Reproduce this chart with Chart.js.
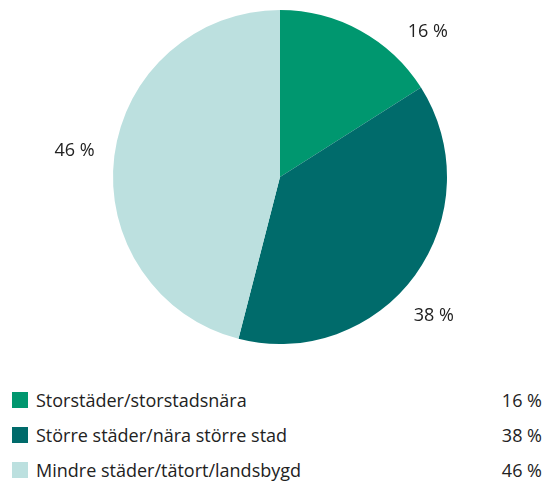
<!DOCTYPE html>
<html>
<head>
<meta charset="utf-8">
<script src="https://cdn.jsdelivr.net/npm/chart.js@4/dist/chart.umd.min.js"></script>
<style>
  body { margin: 0; background: #fff; font-family: "Open Sans", sans-serif; color: #222; }
  #wrap { position: relative; width: 558px; height: 360px; }
  #legend { position: absolute; left: 0; top: 383px; width: 558px; }
  .row { position: relative; height: 35px; font-size: 18px; line-height: 35px; }
  .box { position: absolute; left: 12px; top: 9px; width: 16px; height: 16px; }
  .lab { position: absolute; left: 36px; }
  .val { position: absolute; right: 16px; }
</style>
</head>
<body>
<div id="wrap"><canvas id="myChart" width="558" height="360"></canvas></div>
<div id="legend"></div>
<script>
var categories = ['Storstäder/storstadsnära', 'Större städer/nära större stad', 'Mindre städer/tätort/landsbygd'];
var values = [16, 38, 46];
var colors = ['#00976f', '#006b6b', '#bce0df'];

// legend built from the same arrays
var legend = document.getElementById('legend');
categories.forEach(function (c, i) {
    var row = document.createElement('div');
    row.className = 'row';
    row.innerHTML = '<span class="box" style="background:' + colors[i] + '"></span>' +
        '<span class="lab">' + c + '</span><span class="val">' + values[i] + ' %</span>';
    legend.appendChild(row);
});

var outsideLabels = {
    id: 'outsideLabels',
    afterDatasetsDraw: function (chart, args, opts) {
        var ctx = chart.ctx;
        var meta = chart.getDatasetMeta(0);
        ctx.save();
        ctx.font = '18px "Open Sans", sans-serif';
        ctx.fillStyle = '#222';
        ctx.textAlign = 'center';
        ctx.textBaseline = 'middle';
        meta.data.forEach(function (arc, i) {
            var r = arc.outerRadius * opts.radius;
            var a = (arc.startAngle + arc.endAngle) / 2 + opts.shift[i] * Math.PI / 180;
            var x = arc.x + Math.cos(a) * r;
            var y = arc.y + Math.sin(a) * r;
            // keep label inside the top of the canvas
            if (y < opts.minY) {
                var c = (arc.y - opts.minY) / r;
                var s = Math.sqrt(1 - c * c);
                x = arc.x + s * r;
                y = opts.minY;
            }
            ctx.fillText(values[i] + ' %', x, y);
        });
        ctx.restore();
    }
};

var ctx = document.getElementById('myChart').getContext('2d');
var myChart = new Chart(ctx, {
    type: 'pie',
    data: {
        labels: categories,
        datasets: [{
            data: values,
            backgroundColor: colors,
            borderWidth: 0
        }]
    },
    options: {
        responsive: false,
        animation: false,
        layout: { padding: { top: 10, bottom: 16, left: 2 } },
        plugins: {
            legend: { display: false },
            tooltip: { enabled: false },
            outsideLabels: { radius: 1.24, shift: [0, 6, 0], minY: 32 }
        }
    },
    plugins: [outsideLabels]
});
</script>
</body>
</html>
